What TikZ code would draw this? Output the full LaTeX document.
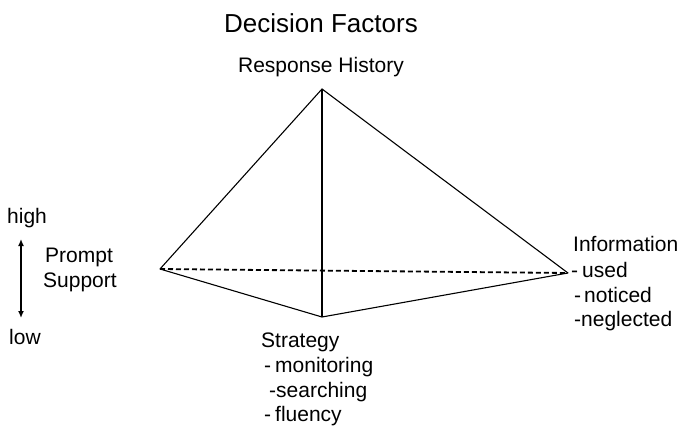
\documentclass[tikz,border=0pt]{standalone}
\usepackage{fontspec}
\setmainfont{Liberation Sans}
\usetikzlibrary{arrows.meta}
\begin{document}
\begin{tikzpicture}[x=1pt,y=-1pt,
  lbl/.style={inner sep=0pt,font=\fontsize{21}{25}\selectfont},
  edge/.style={line width=1.1pt,line join=miter},
  dashedge/.style={line width=1.8pt,dash pattern=on 5pt off 3pt}]
\useasboundingbox (0,0) rectangle (681,428);
% title
\node[inner sep=0pt,anchor=base,font=\fontsize{26}{30}\selectfont] (title) at (321,33) {Decision Factors};
\node[lbl,anchor=base] (resp) at (321,73) {Response History};
% vertices
\coordinate (T) at (322,89);
\coordinate (L) at (160,269);
\coordinate (R) at (568,273);
\coordinate (B) at (322,317);
\draw[edge] (L) -- (T) -- (R);
\draw[edge] (T) -- (B);
\draw[edge] (L) -- (B) -- (R);
\draw[dashedge] (L) -- (R);
% strategy
\node[lbl,anchor=base west] (strat) at (261,347) {Strategy};
\node[lbl,anchor=base west] (strat1) at (264,372) {-\hspace{4pt}monitoring};
\node[lbl,anchor=base west] (strat2) at (269,397) {-searching};
\node[lbl,anchor=base west] (strat3) at (264,421) {-\hspace{4pt}fluency};
% information
\node[lbl,anchor=base west] (info) at (573,251) {Information};
\node[lbl,anchor=base west] (info1) at (571,277) {-\hspace{4pt}used};
\node[lbl,anchor=base west] (info2) at (574,302) {-\hspace{3pt}noticed};
\node[lbl,anchor=base west] (info3) at (574,326) {-neglected};
% prompt support
\node[lbl,anchor=base west] (high) at (7,223) {high};
\node[lbl,anchor=base west] (low) at (9,344) {low};
\node[lbl,anchor=base west] (prompt) at (45,262) {Prompt};
\node[lbl,anchor=base west] (support) at (43,287) {Support};
\coordinate (aT) at (21,239);
\coordinate (aB) at (21,318);
\draw[line width=2pt,{Latex[length=7pt,width=6pt]}-{Latex[length=7pt,width=6pt]}] (aT) -- (aB);
\end{tikzpicture}
\end{document}
